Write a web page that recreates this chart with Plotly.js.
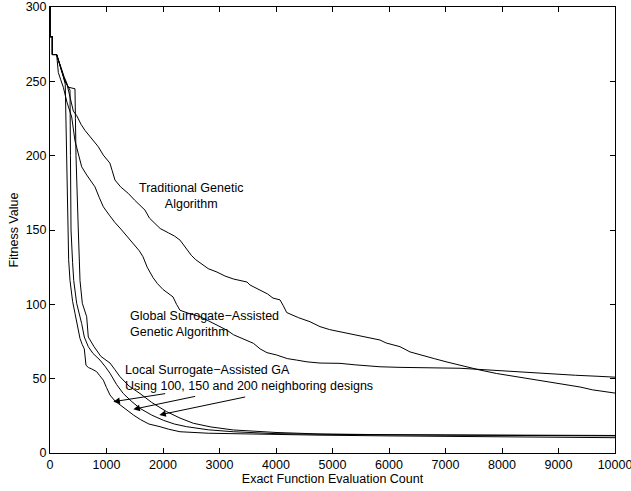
<!DOCTYPE html>
<html>
<head>
<meta charset="utf-8">
<script src="https://cdn.plot.ly/plotly-3.0.1.min.js"></script>
<style>html,body{margin:0;padding:0;background:#fff;}#chart{width:631px;height:491px;}</style>
</head>
<body>
<div id="chart"></div>
<script>
// Traditional Genetic Algorithm
const tradX = [0,0,41,41,118,150,200,250,295,350,413,472,550,619,708,780,855,943,1000,1060,1100,1150,1250,1386,1500,1600,1681,1760,1858,1950,2100,2200,2301,2400,2500,2580,2655,2800,2956,3100,3250,3400,3487,3540,3700,3850,3947,4071,4130,4189,4248,4400,4602,4779,4950,5133,5300,5500,5722,5840,5950,6100,6195,6372,6550,6800,7027,7300,7610,7900,8150,8372,8600,8850,9100,9381,9600,9800,10000];
const tradY = [300,280,280,268,268,264,259,253,249,240,230,227,221,217,212.7,209,206,200.4,198,195,190,183.6,179,174.6,170,166,163.4,158,154.7,151,148,146,143.2,138,133,130,127.8,124,121.7,119,117,115.5,115,113,110,107,104.2,103,99,94.5,93.5,91,88.3,85,83,81.6,80,78.5,77.1,76,74,72.5,71.5,68,66,63.5,61.2,58.5,55.8,53.5,52,50.4,49,47.5,46,44.4,42.5,41.5,40.3];

// Global Surrogate-Assisted GA
const globX = [0,0,41,41,118,147,190,236,300,384,442,501,561,650,720,796,870,944,1050,1150,1269,1380,1500,1580,1646,1720,1823,1900,2000,2100,2177,2240,2301,2450,2655,2800,2950,3127,3250,3400,3599,3720,3840,4012,4200,4366,4550,4779,5133,5400,5840,6195,6700,7257,7700,8100,8496,8900,9300,9700,10000];
const globY = [300,280,280,268,268,256,251,246,236,226,210,201.5,192.5,187,183,179,172,165.6,160,155,150,145,140,136,132,125,118,114,110,107,105,100,96,94,91.7,89,86,82.7,79.5,77,73.8,70,67.5,65.9,63.5,62.5,61.3,60.5,60.3,59.3,58,57.6,57.3,57,56,55,54,53,52.3,51.6,51];

// Local Surrogate-Assisted GA (100, 150 and 200 neighbouring designs)
const loc1X = [0,0,41,41,118,160,200,240,270,285,300,313,330,354,400,442,490,531,570,607,637,680,740,826,880,944,1000,1062,1150,1239,1350,1475,1600,1750,1947,2100,2301,2500,2800,3239,4000,4779,6000,7000,8000,9000,10000];
const loc1Y = [300,280,280,268,268,263,258,253,248,220,180,150,130,116,102,94,85,77,73,70,59,57.5,56.5,54.7,52,49,44,39,35,32.3,29,25.6,22.5,19.5,17.7,16,14.3,13.8,13.3,13,12.3,12,11.5,11.2,11,10.6,10.3];

const loc2X = [0,0,41,41,118,180,250,300,354,362,372,400,420,472,520,561,607,678,760,885,980,1062,1180,1297,1450,1593,1800,2006,2200,2419,2800,3245,4000,5000,7000,10000];
const loc2Y = [300,280,280,268,268,260,252,248,244,200,150,128,116,100.7,94,87,78,71.5,67,62.5,58,53.6,46,40,34.5,30,25.5,22,19.5,17.7,15.6,14.3,13,12.5,12,11.5];

const loc3X = [0,0,41,41,118,180,260,330,442,450,460,501,531,572,649,678,780,900,980,1062,1150,1239,1400,1593,1800,2065,2300,2537,2850,3245,4000,4779,6000,8000,10000];
const loc3Y = [300,280,280,268,268,260,250,246,245,225,200,150,116,100.7,91.7,78,71.5,65,63,60.5,56,51.3,45,40,34,27.8,23.5,20,17.5,15.5,13.8,12.8,12.3,12,11.8];

const xTicks = [0,1000,2000,3000,4000,5000,6000,7000,8000,9000,10000];
const yTicks = [0,50,100,150,200,250,300];

const lineStyle = {color:'#000', width:1};
const traces = [
  {x:tradX, y:tradY, mode:'lines', line:lineStyle, name:'Traditional GA'},
  {x:globX, y:globY, mode:'lines', line:lineStyle, name:'Global SAGA'},
  {x:loc1X, y:loc1Y, mode:'lines', line:lineStyle, name:'Local 100'},
  {x:loc2X, y:loc2Y, mode:'lines', line:lineStyle, name:'Local 150'},
  {x:loc3X, y:loc3Y, mode:'lines', line:lineStyle, name:'Local 200'}
];

const font = {family:'Liberation Sans, Arial, Helvetica, sans-serif', size:12.5, color:'#000'};
const arrowBase = {text:'', showarrow:true, arrowhead:2, arrowsize:1.3, arrowwidth:1, arrowcolor:'#000', axref:'x', ayref:'y', standoff:0};

const layout = {
  width:631, height:491,
  margin:{l:50, r:16, t:7, b:38},
  paper_bgcolor:'#fff', plot_bgcolor:'#fff',
  font:font,
  showlegend:false,
  xaxis:{
    range:[0,10000], tickvals:xTicks, ticktext:xTicks.map(String),
    ticks:'inside', ticklen:5, tickcolor:'#000', showline:true, linecolor:'#000', linewidth:1,
    mirror:'ticks', showgrid:false, zeroline:false, ticklabeloverflow:'allow',
    title:{text:'Exact Function Evaluation Count', font:font, standoff:2}
  },
  yaxis:{
    range:[0,300], tickvals:yTicks, ticktext:yTicks.map(String),
    ticks:'inside', ticklen:5, tickcolor:'#000', showline:true, linecolor:'#000', linewidth:1,
    mirror:'ticks', showgrid:false, zeroline:false, ticklabeloverflow:'allow',
    title:{text:'Fitness Value', font:font, standoff:4}
  },
  annotations:[
    {x:2496, y:172.8, xref:'x', yref:'y', text:'Traditional Genetic<br>Algorithm', showarrow:false, xanchor:'center', yanchor:'middle', align:'center', font:font},
    {x:1375, y:86.7, xref:'x', yref:'y', text:'Global Surrogate\u2212Assisted<br>Genetic Algorithm', showarrow:false, xanchor:'left', yanchor:'middle', align:'left', font:font},
    {x:1287, y:50.2, xref:'x', yref:'y', text:'Local Surrogate\u2212Assisted GA<br>Using 100, 150 and 200 neighboring designs', showarrow:false, xanchor:'left', yanchor:'middle', align:'left', font:font},
    Object.assign({x:1121, y:34.5, ax:2065, ay:40.1, xref:'x', yref:'y'}, arrowBase),
    Object.assign({x:1475, y:29.4, ax:2596, ay:38.3, xref:'x', yref:'y'}, arrowBase),
    Object.assign({x:1935, y:25.6, ax:3481, ay:37.9, xref:'x', yref:'y'}, arrowBase)
  ]
};

Plotly.newPlot('chart', traces, layout, {displayModeBar:false, staticPlot:true});
</script>
</body>
</html>
